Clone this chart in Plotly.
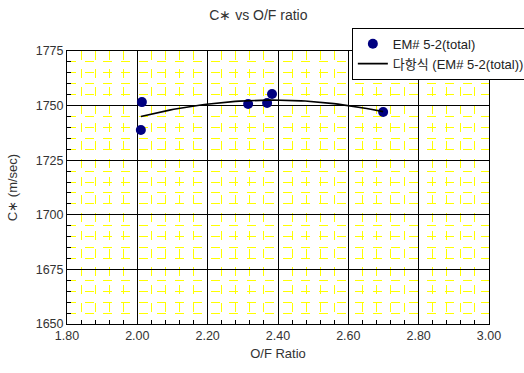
import numpy as np
import plotly.graph_objects as go

# Data
of_ratio = [2.013, 2.010, 2.315, 2.369, 2.383, 2.699]
c_star = [1751.6, 1738.8, 1750.7, 1751.2, 1755.3, 1747.1]
series_name = "EM# 5-2(total)"
trend_name = "다항식 (EM# 5-2(total))"
x_ticks = [1.8, 2.0, 2.2, 2.4, 2.6, 2.8, 3.0]
y_ticks = [1650, 1675, 1700, 1725, 1750, 1775]

# 2nd-order polynomial trendline (as in the spreadsheet)
coef = np.polyfit(of_ratio, c_star, 2)
xt = np.linspace(min(of_ratio), max(of_ratio), 60)
yt = np.polyval(coef, xt)

font_fam = "Liberation Sans, Noto Sans CJK KR, Arial, sans-serif"

fig = go.Figure()
fig.add_trace(go.Scatter(x=of_ratio, y=c_star, mode="markers", name=series_name,
                         marker=dict(color="#000080", size=10)))
fig.add_trace(go.Scatter(x=xt, y=yt, mode="lines", name=trend_name,
                         line=dict(color="black", width=1.6)))

axis_common = dict(showline=True, linecolor="black", linewidth=1, mirror=True,
                   showgrid=True, gridcolor="black", gridwidth=1,
                   ticks="inside", ticklen=5, tickcolor="black", zeroline=False,
                   tickfont=dict(size=12.5, color="#333333", family=font_fam))

fig.update_xaxes(range=[1.8, 3.0], tickvals=x_ticks,
                 ticktext=[f"{v:.2f}" for v in x_ticks],
                 minor=dict(dtick=0.04, showgrid=True, gridcolor="#FFFF00",
                            griddash="dash", gridwidth=1, ticks="inside",
                            ticklen=4, tickcolor="black"),
                 title=dict(text="O/F Ratio", font=dict(size=13, color="#333333", family=font_fam),
                            standoff=6),
                 **axis_common)
fig.update_yaxes(range=[1650, 1775], tickvals=y_ticks,
                 minor=dict(dtick=5, showgrid=True, gridcolor="#FFFF00",
                            griddash="dash", gridwidth=1, ticks="inside",
                            ticklen=4, tickcolor="black"),
                 title=dict(text="C∗ (m/sec)", font=dict(size=13, color="#333333", family=font_fam),
                            standoff=15),
                 **axis_common)

fig.update_layout(
    width=524, height=373,
    margin=dict(l=67, r=35, t=51, b=49, autoexpand=False),
    paper_bgcolor="white", plot_bgcolor="white",
    title=dict(text="C∗ vs O/F ratio", x=0.493, xref="container", xanchor="center",
               y=0.96, yref="container", yanchor="middle",
               font=dict(size=14, color="#333333", family=font_fam)),
    legend=dict(x=0.675, y=1.085, xanchor="left", yanchor="top",
                bgcolor="white", bordercolor="black", borderwidth=1,
                font=dict(size=13, color="#222222", family=font_fam),
                tracegroupgap=0, itemwidth=30),
    showlegend=True,
)

fig.write_html("out.html")
